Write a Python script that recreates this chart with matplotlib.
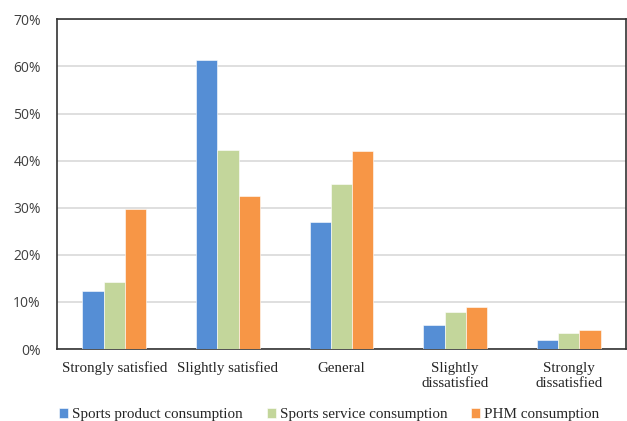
import matplotlib.pyplot as plt
import numpy as np
from matplotlib.ticker import PercentFormatter

# satisfaction levels and share of respondents (%) per consumption type
categories = ["Strongly satisfied", "Slightly satisfied", "General",
              "Slightly\ndissatisfied", "Strongly\ndissatisfied"]
product = [12.3, 61.3, 26.9, 5.0, 1.9]
service = [14.3, 42.3, 35.0, 7.9, 3.4]
phm = [29.8, 32.5, 42.1, 9.0, 4.0]
series_names = ["Sports product consumption", "Sports service consumption", "PHM consumption"]
colors = ["#558ED5", "#C3D69B", "#F79646"]

fig = plt.figure(figsize=(6.27, 4.21), dpi=100)
ax = fig.add_axes([0.0917, 0.171, 0.906, 0.783])

x = np.arange(len(categories))
w = 0.187
for i, (vals, name, c) in enumerate(zip([product, service, phm], series_names, colors)):
    ax.bar(x + (i - 1) * w, vals, w, color=c, label=name, edgecolor="white", linewidth=0.4, zorder=3)

ax.set_xlim(-0.5, len(categories) - 0.5)
ax.set_ylim(0, 70)
ax.set_yticks(np.arange(0, 71, 10))
ax.yaxis.set_major_formatter(PercentFormatter(decimals=0))
ax.grid(axis="y", color="#d9d9d9", linewidth=1.2, zorder=0)
for s in ax.spines.values():
    s.set_color("#333333")
    s.set_linewidth(1.2)
ax.tick_params(axis="both", length=0)
ax.tick_params(axis="y", labelsize=10, labelcolor="#404040", pad=12)
for t in ax.get_yticklabels():
    t.set_family("Open Sans")
ax.set_xticks(x)
ax.set_xticklabels(categories, family="Liberation Serif", fontsize=10.8, color="#262626", linespacing=1.2)
ax.tick_params(axis="x", pad=9)

leg = fig.legend(loc="lower center", bbox_to_anchor=(0.525, -0.033), ncol=3, frameon=False,
                 prop={"family": "Liberation Serif", "size": 10.9},
                 handlelength=0.6, handleheight=0.6, handletextpad=0.25, columnspacing=1.6)
for t in leg.get_texts():
    t.set_color("#262626")

fig.savefig("out.png", dpi=100)
